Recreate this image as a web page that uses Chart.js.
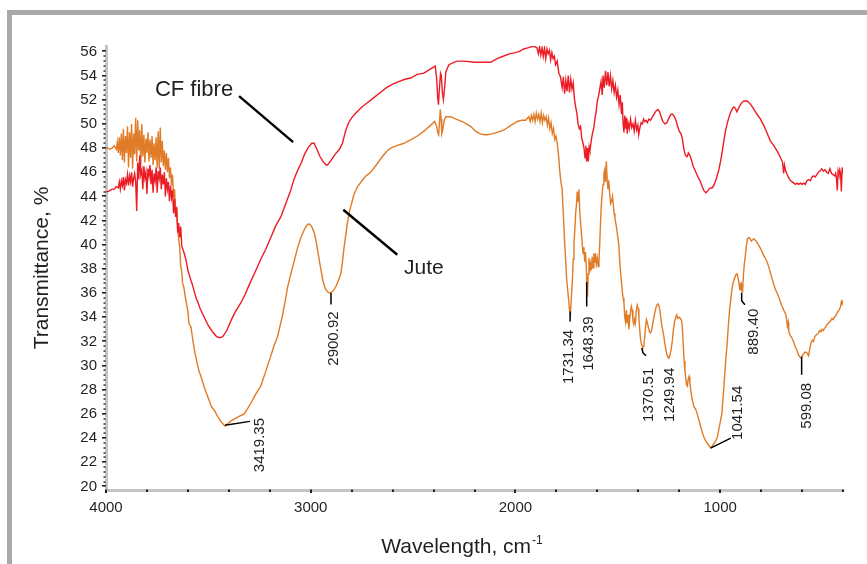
<!DOCTYPE html>
<html><head><meta charset="utf-8">
<script src="https://cdn.jsdelivr.net/npm/chart.js@4/dist/chart.umd.min.js"></script>
<style>html,body{margin:0;padding:0;background:#fff;overflow:hidden}#wrap{width:867px;height:564px;position:relative}</style>
</head><body><div id="wrap"><canvas id="c" width="867" height="564"></canvas></div>
<script>
// ---------------- DATA ----------------
const seriesNames = ['CF fibre', 'Jute'];

const cfWavenumber = [4000,3990,3980,3970,3960,3950,3940,3935,3930,3925,3920,3915,3910,3905,3900,3895,3890,3885,3880,3875,3870,3865,3860,3855,3850,3845,3840,3835,3830,3825,3820,3815,3810,3805,3800,3795,3790,3785,3780,3775,3770,3765,3760,3755,3750,3745,3740,3735,3730,3725,3720,3715,3710,3705,3700,3695,3690,3685,3680,3675,3670,3665,3660,3655,3650,3645,3640,3635,3630,3620,3610,3600,3590,3580,3570,3560,3550,3540,3520,3500,3480,3460,3444,3430,3410,3390,3370,3341,3320,3300,3270,3244,3220,3195,3170,3146,3120,3100,3080,3060,3048,3030,3010,2995,2983,2970,2955,2940,2925,2918,2900,2880,2860,2845,2830,2815,2800,2780,2750,2720,2690,2660,2630,2600,2570,2540,2511,2480,2447,2420,2400,2392,2385,2380,2376,2372,2366,2362,2357,2352,2346,2340,2325,2300,2284,2250,2200,2160,2121,2090,2060,2030,2000,1980,1960,1940,1920,1905,1895,1888,1882,1876,1870,1864,1858,1852,1846,1840,1834,1828,1822,1816,1810,1804,1796,1788,1780,1772,1766,1760,1754,1748,1742,1736,1730,1724,1718,1712,1706,1700,1694,1688,1682,1676,1670,1665,1660,1656,1652,1648,1644,1640,1636,1630,1624,1618,1612,1606,1600,1594,1588,1582,1576,1572,1566,1560,1554,1548,1542,1536,1530,1524,1518,1512,1506,1500,1494,1488,1482,1478,1474,1470,1466,1462,1458,1454,1450,1444,1438,1432,1426,1420,1414,1408,1402,1398,1392,1386,1380,1374,1368,1362,1356,1348,1340,1330,1320,1312,1304,1296,1288,1280,1270,1260,1250,1240,1232,1224,1216,1208,1200,1192,1185,1178,1170,1161,1155,1148,1140,1132,1124,1116,1108,1098,1090,1080,1070,1063,1055,1047,1040,1031,1020,1008,998,990,982,974,966,958,950,942,934,926,918,910,901,892,884,868,850,835,820,803,785,770,755,738,720,705,695,690,686,680,672,664,656,648,640,632,624,616,608,600,592,584,576,568,560,552,544,536,528,520,512,504,496,488,480,472,464,456,448,440,436,432,428,424,420,416,412,408,404,400];
const cfTransmittance = [44.4,44.4,44.5,44.6,44.6,44.8,44.7,45.2,44.6,45.3,44.9,45.6,44.5,45.4,45.1,45.8,44.9,45.7,45.2,46.0,44.8,45.5,45.9,45.2,42.8,46.8,45.4,47.4,45.8,46.2,44.6,46.5,45.5,46.0,44.2,46.3,45.7,46.6,45.0,46.2,44.3,45.9,45.3,46.4,44.3,46.1,45.5,46.4,44.6,45.8,45.0,46.0,44.0,45.5,44.6,45.2,43.6,44.9,43.9,44.5,42.6,43.8,42.3,43.1,41.0,41.8,40.6,41.5,39.9,39.4,38.8,37.9,37.3,36.8,36.2,35.6,35.2,34.7,34.0,33.3,32.8,32.4,32.3,32.4,32.9,33.7,34.4,35.2,35.9,36.7,37.8,38.8,39.6,40.6,41.6,42.3,43.5,44.4,45.5,46.3,46.7,47.5,48.1,48.4,48.4,47.9,47.3,46.9,46.6,46.6,47.0,47.5,47.9,48.4,49.4,50.1,50.5,50.9,51.4,51.8,52.2,52.6,53.0,53.3,53.5,53.7,53.8,54.1,54.2,54.5,54.7,54.8,53.8,52.2,51.6,52.8,54.2,54.0,52.6,52.0,53.0,54.3,54.9,55.1,55.2,55.2,55.1,55.1,55.1,55.4,55.6,55.8,55.9,56.0,56.2,56.3,56.4,56.4,56.3,55.8,56.4,55.7,56.3,55.6,56.3,55.4,56.2,55.8,56.1,55.3,55.9,55.4,55.6,54.9,55.2,54.2,53.9,53.0,53.9,52.5,53.6,52.7,54.0,52.6,53.7,52.9,53.4,52.1,51.4,50.9,50.0,49.6,49.8,48.8,48.4,48.0,47.2,48.2,46.9,48.0,46.9,48.1,47.8,48.6,49.2,49.6,50.4,51.0,51.9,52.3,52.9,53.5,52.4,54.0,53.0,54.4,53.2,54.3,53.1,54.0,52.9,53.6,52.6,53.2,52.2,52.8,51.6,52.4,50.8,51.8,50.0,49.3,50.7,49.6,50.5,49.2,50.1,49.6,50.4,49.7,50.0,49.4,50.3,49.5,49.9,49.1,49.7,50.1,50.0,50.4,50.2,50.3,50.1,50.4,50.3,50.6,50.9,51.1,51.2,51.0,50.6,50.2,50.0,50.1,50.5,50.8,50.8,50.6,50.3,49.8,49.4,49.2,48.8,48.0,47.4,47.3,47.6,47.4,47.0,46.5,46.2,45.9,45.6,45.3,44.9,44.5,44.3,44.4,44.6,44.7,44.7,44.9,45.4,46.1,46.9,47.7,48.6,49.4,50.0,50.5,50.9,51.2,51.4,51.3,51.0,51.3,51.6,51.8,51.9,51.9,51.6,51.2,50.8,50.4,49.8,49.2,48.6,48.2,47.7,47.2,46.8,45.9,46.6,46.1,45.8,45.5,45.3,45.2,45.1,45.0,45.1,45.0,45.1,45.0,45.1,45.0,45.3,45.4,45.3,45.6,45.7,45.6,45.8,46.0,46.1,46.3,46.1,46.2,46.0,45.9,46.3,45.9,45.8,45.7,45.9,45.5,44.5,46.1,45.8,46.2,45.9,44.4,46.4,45.9];

const juteWavenumber = [4000,3990,3980,3970,3960,3950,3945,3940,3935,3930,3925,3920,3915,3910,3905,3900,3895,3890,3885,3880,3875,3870,3865,3860,3855,3850,3845,3840,3835,3830,3825,3820,3815,3810,3805,3800,3795,3790,3785,3780,3775,3770,3765,3760,3755,3750,3745,3740,3735,3730,3725,3720,3715,3710,3705,3700,3695,3690,3685,3680,3675,3670,3665,3660,3655,3650,3645,3640,3635,3630,3626,3620,3610,3600,3595,3585,3575,3565,3555,3545,3536,3520,3500,3485,3471,3455,3440,3425,3419,3405,3390,3370,3350,3325,3310,3292,3270,3244,3220,3195,3180,3162,3140,3125,3113,3097,3080,3065,3048,3030,3015,3005,2995,2983,2975,2963,2951,2940,2930,2918,2902,2890,2878,2866,2853,2845,2837,2829,2820,2810,2804,2790,2772,2750,2730,2707,2680,2650,2625,2609,2580,2544,2510,2479,2447,2414,2395,2385,2380,2375,2370,2367,2363,2360,2355,2348,2340,2316,2290,2260,2240,2219,2195,2175,2152,2137,2110,2090,2056,2030,2010,1991,1970,1950,1935,1928,1922,1916,1910,1904,1898,1892,1886,1880,1874,1868,1862,1856,1850,1844,1838,1832,1826,1820,1814,1808,1802,1796,1790,1784,1778,1772,1766,1760,1755,1750,1745,1740,1736,1731,1727,1722,1718,1714,1710,1706,1702,1698,1694,1690,1686,1682,1678,1674,1670,1666,1662,1658,1654,1650,1648,1645,1641,1637,1633,1629,1625,1621,1617,1613,1609,1605,1600,1596,1592,1588,1584,1580,1576,1572,1568,1564,1560,1556,1552,1548,1544,1540,1535,1530,1526,1522,1518,1514,1510,1505,1500,1495,1490,1486,1482,1478,1474,1470,1466,1462,1458,1454,1450,1446,1442,1438,1434,1430,1426,1422,1418,1414,1410,1405,1400,1397,1393,1389,1385,1381,1377,1373,1368,1364,1360,1356,1350,1345,1340,1334,1328,1320,1312,1305,1300,1295,1290,1285,1280,1275,1270,1265,1260,1255,1251,1246,1240,1234,1228,1222,1217,1212,1207,1200,1194,1188,1184,1180,1176,1172,1168,1164,1160,1156,1152,1148,1144,1140,1134,1128,1120,1112,1104,1096,1088,1080,1072,1064,1056,1047,1040,1032,1024,1015,1008,1000,992,985,978,972,966,960,954,948,942,936,930,924,918,913,908,904,901,897,893,890,886,882,877,872,866,860,854,848,842,836,830,825,820,810,800,790,780,771,760,750,740,730,722,712,700,690,681,676,672,668,665,658,650,642,634,626,618,610,604,600,596,592,586,580,574,568,562,556,550,544,538,532,526,520,514,508,502,496,490,484,478,472,466,460,454,448,442,436,430,424,418,412,408,404,400];
const juteTransmittance = [48.0,48.0,47.9,48.0,48.2,47.9,48.5,47.6,48.9,47.4,49.2,47.0,49.6,46.8,49.0,47.6,49.8,46.4,49.3,47.2,50.0,46.3,49.2,47.5,50.5,46.9,50.3,47.8,49.5,46.6,50.0,47.3,49.1,46.8,48.8,47.6,49.3,46.9,48.7,47.2,49.0,46.6,48.4,47.0,48.9,46.4,49.4,46.3,49.7,46.8,48.6,46.5,47.8,46.2,47.6,46.0,47.2,45.5,46.4,44.9,45.8,43.9,44.6,42.8,43.0,41.5,40.4,39.8,38.2,37.8,36.8,36.5,35.4,34.5,33.5,33.2,32.0,31.0,30.2,29.5,29.1,28.2,27.3,26.6,26.3,25.8,25.4,25.1,25.0,25.2,25.4,25.6,25.8,26.0,26.4,26.9,27.6,28.3,29.5,30.8,31.6,32.4,34.0,35.3,36.5,37.6,38.7,39.7,40.6,41.3,41.7,41.7,41.5,41.0,40.4,39.2,38.0,37.0,36.4,36.1,36.0,36.2,36.5,37.0,37.6,38.6,39.8,40.8,41.9,42.8,43.2,44.1,44.8,45.3,45.7,46.0,46.6,47.3,47.8,48.0,48.2,48.4,48.7,49.0,49.4,49.9,50.2,49.8,49.3,49.1,50.4,51.2,50.4,49.2,49.5,50.3,50.6,50.6,50.4,50.2,50.0,49.8,49.4,49.2,49.1,49.1,49.2,49.3,49.5,49.8,50.0,50.2,50.3,50.3,50.6,50.2,50.7,50.3,50.8,50.2,50.9,50.4,50.8,50.2,50.9,50.1,50.7,50.3,50.6,49.9,50.5,49.6,50.1,49.2,49.6,48.7,49.0,48.4,47.5,46.2,45.2,44.6,42.5,40.3,38.8,37.2,36.3,35.4,34.6,34.3,35.6,37.0,38.8,40.2,41.2,42.6,43.3,44.4,43.6,44.6,42.8,41.9,41.0,40.2,39.3,39.8,38.6,39.4,38.2,36.0,35.7,37.6,38.9,37.7,38.4,37.9,39.0,38.1,39.3,38.5,39.3,38.4,38.9,38.2,38.6,40.2,42.0,43.4,44.3,45.0,45.9,46.2,45.2,46.9,45.4,44.6,45.3,44.3,43.4,43.6,44.0,43.3,42.6,42.2,41.8,41.3,40.6,40.0,38.5,37.6,36.9,36.1,35.6,35.2,34.0,33.6,34.6,33.5,34.2,33.0,33.8,34.5,34.9,34.6,33.7,33.4,33.8,33.5,34.5,35.0,34.7,34.0,33.0,32.2,31.8,31.6,31.5,31.6,32.5,33.3,33.8,33.6,33.1,32.8,32.7,33.0,33.6,34.3,34.9,35.1,35.0,34.6,34.0,33.3,32.9,32.4,31.8,31.3,30.9,30.7,30.6,30.8,31.3,32.0,33.0,33.7,34.0,34.2,33.9,34.0,33.9,33.7,33.0,31.6,30.4,29.6,28.9,28.4,28.3,28.9,29.1,28.6,28.0,27.5,27.0,26.6,26.4,26.0,25.5,25.0,24.5,24.1,23.8,23.6,23.4,23.2,23.3,23.5,23.7,24.0,24.6,25.3,26.0,27.5,29.2,30.6,31.8,33.3,34.6,35.5,36.4,36.9,37.2,37.5,37.6,37.3,36.8,36.3,36.3,36.9,36.1,36.3,37.6,38.4,39.1,39.9,40.5,40.6,40.5,40.3,40.4,40.5,40.4,40.3,40.2,39.9,39.6,39.2,38.9,38.6,38.0,37.4,36.8,36.3,36.0,35.6,35.0,34.6,34.3,33.9,33.3,33.6,32.8,32.5,32.3,32.0,31.6,31.3,30.9,30.7,30.6,30.8,30.9,31.0,31.1,31.1,31.0,30.8,31.4,31.9,32.1,32.0,32.4,32.5,32.6,32.7,32.9,32.8,33.0,32.9,33.1,33.2,33.4,33.5,33.6,33.7,33.9,33.8,34.0,34.1,34.3,34.5,34.6,34.9,35.3,35.1,35.4];

const yTickValues = [20,22,24,26,28,30,32,34,36,38,40,42,44,46,48,50,52,54,56];
const xTickValues = [4000,3800,3600,3400,3200,3000,2800,2600,2400,2200,2000,1800,1600,1400,1200,1000,800,600,400];
const xLabelValues = [4000,3000,2000,1000];
const peakLabels = ['3419.35','2900.92','1731.34','1648.39','1370.51','1249.94','1041.54','889.40','599.08'];

// ---------------- ANNOTATION LAYOUT (data coordinates) ----------------
const peakLayout = [
  {leader:[[3419,25.05],[3297,25.38]], text:[3248,25.66]},
  {leader:[[2901,36.0],[2901,35.05]], text:[2886,34.48]},
  {leader:[[1733,34.48],[1733,33.65]], text:[1738,32.96]},
  {leader:[[1652,36.9],[1652,34.89]], text:[1641,34.06]},
  {leader:[[1383,31.45],[1377,31.06],[1362,30.81]], text:[1348,29.82]},
  {leader:[], text:[1245,29.82]},
  {leader:[[1047,23.17],[948,24.0]], text:[915,28.33]},
  {leader:[[895,36.02],[895,35.36],[879,35.03]], text:[834,34.7]},
  {leader:[[602,30.73],[602,29.24]], text:[576,28.57]}
];
const seriesLabelLayout = [
  {text:[3761,52.28], leader:[[3350,52.3],[3086,48.5]]},
  {text:[2544,37.57], leader:[[2841,42.9],[2577,39.17]]}
];

const FONT = '"Liberation Sans", Arial, Helvetica, sans-serif';

const decor = {
  id: 'decor',
  beforeDraw(chart) {
    const ctx = chart.ctx;
    ctx.save();
    ctx.fillStyle = '#fff';
    ctx.fillRect(0, 0, chart.width, chart.height);
    ctx.fillStyle = '#a9a9a9';
    ctx.fillRect(7, 10, chart.width - 7, 5);
    ctx.fillRect(7, 10, 5, chart.height - 10);
    ctx.restore();
  },
  afterDraw(chart) {
    const {ctx, chartArea: a, scales: {x, y}} = chart;
    ctx.save();
    // y tick marks (major every 2, minor every 0.4)
    ctx.fillStyle = '#222';
    for (let k = 0; k <= 90; k++) {
      const v = 20 + k * 0.4;
      const py = Math.round(y.getPixelForValue(v));
      const major = k % 5 === 0;
      if (major) ctx.fillRect(a.left - 4, py - 1, 4, 1.6);
      else ctx.fillRect(a.left - 2.5, py - 0.7, 2, 1.4);
    }
    // x tick marks
    xTickValues.forEach(v => {
      const px = Math.round(x.getPixelForValue(v));
      const major = v % 1000 === 0;
      ctx.fillRect(px - 1, a.bottom - 0.5, 2, major ? 3.5 : 2.5);
    });
    // axis titles
    ctx.fillStyle = '#231f20';
    ctx.font = '21px ' + FONT;
    ctx.textAlign = 'center';
    ctx.textBaseline = 'middle';
    ctx.save();
    ctx.translate(a.left - 64, (a.top + a.bottom) / 2);
    ctx.rotate(-Math.PI / 2);
    ctx.fillText('Transmittance, %', 0, 0);
    ctx.restore();
    const main = 'Wavelength, cm';
    const sup = '-1';
    ctx.font = '21px ' + FONT;
    const w1 = ctx.measureText(main).width;
    ctx.font = '12px ' + FONT;
    const w2 = ctx.measureText(sup).width;
    const cx = (a.left + a.right) / 2 - 13;
    const startX = cx - (w1 + w2) / 2;
    const baseY = a.bottom + 63;
    ctx.textAlign = 'left';
    ctx.textBaseline = 'alphabetic';
    ctx.font = '21px ' + FONT;
    ctx.fillText(main, startX, baseY);
    ctx.font = '12px ' + FONT;
    ctx.fillText(sup, startX + w1 + 1, baseY - 9);

    // series labels with leaders
    ctx.strokeStyle = '#000';
    ctx.lineWidth = 2.4;
    seriesLabelLayout.forEach((s, i) => {
      ctx.beginPath();
      s.leader.forEach(([w, t], j) => {
        const px = x.getPixelForValue(w), py = y.getPixelForValue(t);
        j ? ctx.lineTo(px, py) : ctx.moveTo(px, py);
      });
      ctx.stroke();
      ctx.font = (i === 0 ? '22px ' : '21px ') + FONT;
      ctx.fillStyle = '#231f20';
      ctx.textAlign = 'left';
      ctx.textBaseline = 'alphabetic';
      ctx.fillText(seriesNames[i], x.getPixelForValue(s.text[0]), y.getPixelForValue(s.text[1]));
    });

    // peak labels
    ctx.lineWidth = 1.5;
    ctx.font = '15px ' + FONT;
    peakLayout.forEach((p, i) => {
      if (p.leader.length) {
        ctx.beginPath();
        p.leader.forEach(([w, t], j) => {
          const px = x.getPixelForValue(w), py = y.getPixelForValue(t);
          j ? ctx.lineTo(px, py) : ctx.moveTo(px, py);
        });
        ctx.stroke();
      }
      ctx.save();
      ctx.translate(x.getPixelForValue(p.text[0]), y.getPixelForValue(p.text[1]));
      ctx.rotate(-Math.PI / 2);
      ctx.textAlign = 'right';
      ctx.textBaseline = 'middle';
      ctx.fillStyle = '#231f20';
      ctx.fillText(peakLabels[i], 0, 0);
      ctx.restore();
    });
    ctx.restore();
  }
};

new Chart(document.getElementById('c'), {
  type: 'line',
  data: {
    datasets: [
      {label: seriesNames[0], data: cfWavenumber.map((w, i) => ({x: w, y: cfTransmittance[i]})),
       borderColor: '#ec1c24', borderWidth: 1.4, pointRadius: 0, tension: 0, fill: false},
      {label: seriesNames[1], data: juteWavenumber.map((w, i) => ({x: w, y: juteTransmittance[i]})),
       borderColor: '#e07b27', borderWidth: 1.4, pointRadius: 0, tension: 0, fill: false}
    ]
  },
  options: {
    responsive: false,
    animation: false,
    devicePixelRatio: 1,
    layout: {padding: {top: 46, right: 24, left: 0, bottom: 0}},
    plugins: {legend: {display: false}, tooltip: {enabled: false}},
    scales: {
      x: {
        type: 'linear', reverse: true, min: 400, max: 4000,
        afterBuildTicks: s => { s.ticks = xLabelValues.map(v => ({value: v})); },
        afterFit: s => { s.height = 74; },
        ticks: {font: {size: 15, family: FONT}, color: '#231f20', maxRotation: 0, autoSkip: false, padding: 9,
                callback: v => String(v)},
        grid: {drawOnChartArea: false, drawTicks: false},
        border: {display: true, color: '#c4c4c4', width: 3}
      },
      y: {
        type: 'linear', min: 19.7, max: 56.45,
        afterBuildTicks: s => { s.ticks = yTickValues.map(v => ({value: v})); },
        afterFit: s => { s.width = 106; },
        ticks: {font: {size: 15, family: FONT}, color: '#231f20', padding: 9, callback: v => String(v)},
        grid: {drawOnChartArea: false, drawTicks: false},
        border: {display: true, color: '#c4c4c4', width: 3}
      }
    }
  },
  plugins: [decor]
});
</script>
</body></html>
